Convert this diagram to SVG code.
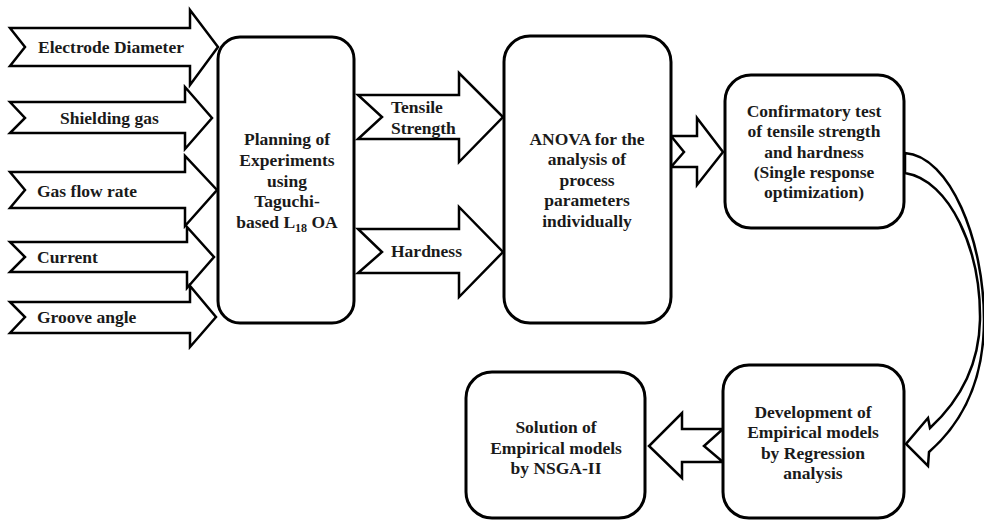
<svg xmlns="http://www.w3.org/2000/svg" width="984" height="520" viewBox="0 0 984 520">
<style>
.box{fill:#fff;stroke:#000;stroke-width:3}
.arr{fill:#fff;stroke:#000;stroke-width:2.5;stroke-linejoin:miter}
.t{font-family:"Liberation Serif","DejaVu Serif",serif;font-weight:bold;font-size:17.5px;fill:#1a1a1a}
.c{text-anchor:middle}
</style>
<rect width="984" height="520" fill="#fff"/>
<g id="connectors">
<g id="in-electrode"><path class="arr" d="M10,28 H190 V10 L218,47 L190,85 V66 H10 L25,47 Z"/><text class="t" x="38" y="53">Electrode Diameter</text></g>
<g id="in-shielding"><path class="arr" d="M10,102 H185 V87 L212,118 L185,149 V133 H10 L25,118 Z"/><text class="t" x="60" y="124">Shielding gas</text></g>
<g id="in-gasflow"><path class="arr" d="M10,172 H185 V156 L217,190 L185,226 V208 H10 L25,190 Z"/><text class="t" x="37" y="197">Gas flow rate</text></g>
<g id="in-current"><path class="arr" d="M10,242 H187 V227 L214,257 L187,288 V272 H10 L25,257 Z"/><text class="t" x="37" y="263">Current</text></g>
<g id="in-groove"><path class="arr" d="M10,302 H190 V286 L216,317 L190,347 V333 H10 L25,317 Z"/><text class="t" x="37" y="323">Groove angle</text></g>
<g id="out-tensile"><path class="arr" d="M358,95 H459 V73 L503,117 L459,162 V139 H358 L382,117 Z"/><text class="t" x="391" y="113">Tensile</text><text class="t" x="391" y="134">Strength</text></g>
<g id="out-hardness"><path class="arr" d="M358,229 H459 V207 L503,252 L459,297 V273 H358 L382,252 Z"/><text class="t" x="391" y="257">Hardness</text></g>
<path id="anova-to-confirm" class="arr" d="M671,136 H697 V118 L723,152 L697,185 V167 H671 L684,152 Z"/>
<path id="confirm-to-dev" class="arr" d="M905,153 C950,156 984,240 984,320 C984,385 960,425 929,452 L928,466 L906,444 L928,418 L930,428 C955,405 979,370 980,320 C981,250 950,180 905,173 Z"/>
<path id="dev-to-solution" class="arr" d="M723,429 H682 V413 L649,446 L682,478 V462 H723 L704,446 Z"/>
</g>
<g id="planning"><rect class="box" x="218" y="37" width="136" height="286" rx="22"/>
<text class="t c" x="287" y="145">Planning of</text><text class="t c" x="287" y="166">Experiments</text><text class="t c" x="287" y="187">using</text><text class="t c" x="287" y="207">Taguchi-</text><text class="t c" x="287" y="228">based L<tspan font-size="12" dy="4">18</tspan><tspan dy="-4"> OA</tspan></text></g>
<g id="anova"><rect class="box" x="504" y="36" width="167" height="287" rx="26"/>
<text class="t c" x="587" y="145">ANOVA for the</text><text class="t c" x="587" y="165">analysis of</text><text class="t c" x="587" y="186">process</text><text class="t c" x="587" y="206">parameters</text><text class="t c" x="587" y="227">individually</text></g>
<g id="confirm"><rect class="box" x="725" y="75" width="179" height="153" rx="26"/>
<text class="t c" x="814" y="117">Confirmatory test</text><text class="t c" x="814" y="137">of tensile strength</text><text class="t c" x="814" y="158">and hardness</text><text class="t c" x="814" y="178">(Single response</text><text class="t c" x="814" y="198">optimization)</text></g>
<g id="development"><rect class="box" x="723" y="365" width="181" height="153" rx="26"/>
<text class="t c" x="813" y="418">Development of</text><text class="t c" x="813" y="438">Empirical models</text><text class="t c" x="813" y="459">by Regression</text><text class="t c" x="813" y="479">analysis</text></g>
<g id="solution"><rect class="box" x="466" y="372" width="179" height="146" rx="26"/>
<text class="t c" x="556" y="433">Solution of</text><text class="t c" x="556" y="454">Empirical models</text><text class="t c" x="556" y="474">by NSGA-II</text></g>
</svg>
